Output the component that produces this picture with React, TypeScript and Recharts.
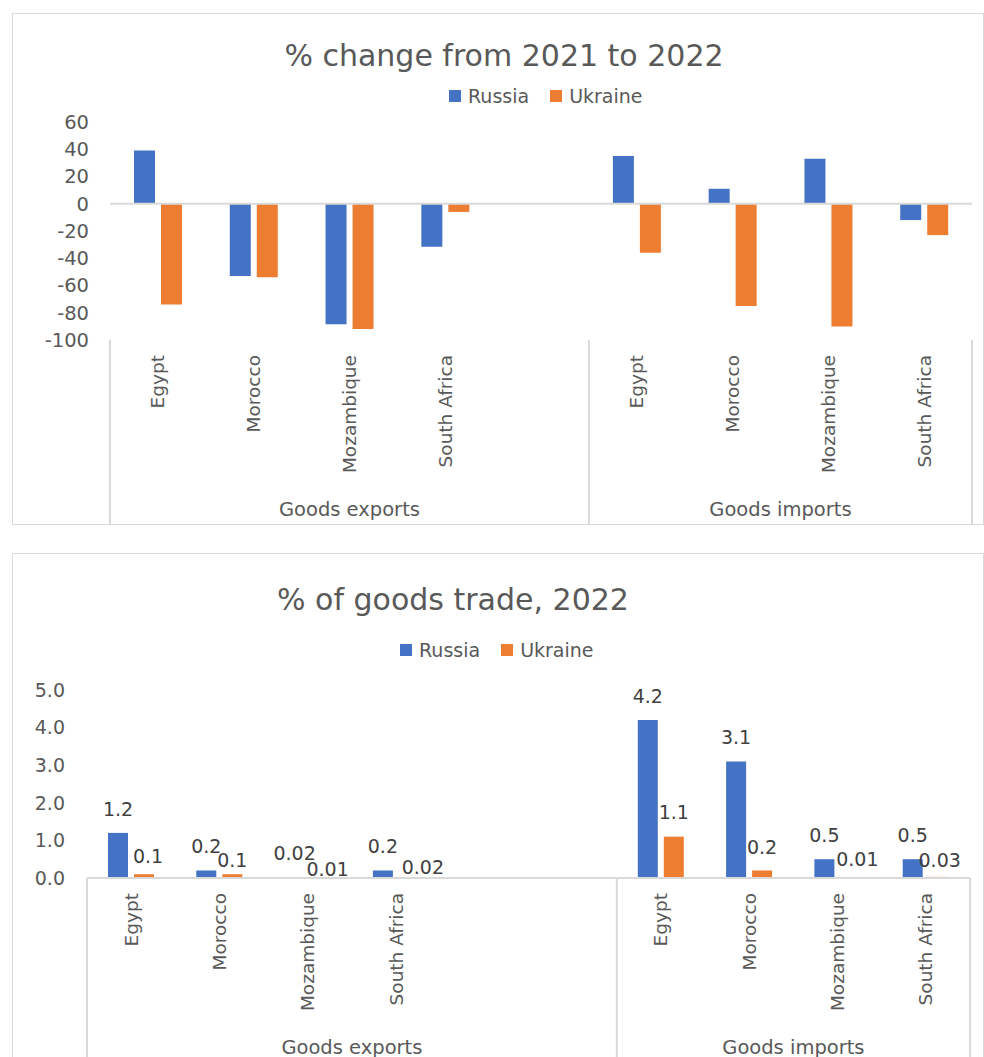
import React from 'react';
import { Bar, BarChart, LabelList, ReferenceLine, XAxis, YAxis } from 'recharts';

const FONT = '"DejaVu Sans", sans-serif';
const TEXT = '#595959';
const LABEL = '#404040';
const LINE = '#d9d9d9';

const seriesNames = ['Russia', 'Ukraine'];
const seriesColors = ['#4472C4', '#ED7D31'];

// chart 1: % change from 2021 to 2022
const changeCategories = ['Egypt', 'Morocco', 'Mozambique', 'South Africa', '', 'Egypt', 'Morocco', 'Mozambique', 'South Africa'];
const changeGroups = ['Goods exports', 'Goods exports', 'Goods exports', 'Goods exports', 'Goods exports', 'Goods imports', 'Goods imports', 'Goods imports', 'Goods imports'];
const changeRussia = [39, -53, -88.5, -31.5, null, 35, 11, 33, -12];
const changeUkraine = [-74, -54, -92, -6, null, -36, -75, -90, -23];
const changeTicks = [-100, -80, -60, -40, -20, 0, 20, 40, 60];

// chart 2: % of goods trade, 2022
const shareCategories = ['Egypt', 'Morocco', 'Mozambique', 'South Africa', '', '', 'Egypt', 'Morocco', 'Mozambique', 'South Africa'];
const shareGroups = ['Goods exports', 'Goods exports', 'Goods exports', 'Goods exports', 'Goods exports', 'Goods exports', 'Goods imports', 'Goods imports', 'Goods imports', 'Goods imports'];
const shareRussia = [1.2, 0.2, 0.02, 0.2, null, null, 4.2, 3.1, 0.5, 0.5];
const shareUkraine = [0.1, 0.1, 0.01, 0.02, null, null, 1.1, 0.2, 0.01, 0.03];
const shareTicks = [0, 1, 2, 3, 4, 5];

// Ukraine labels were dragged around in the original; [dx, dy from bar top], by category
const ukraineLabelNudge: ([number, number] | null)[] = [
  [4, -18], [0, -14], [7, -8], [14, -10], null, null, [0, -24], [0, -23], [7, -18], [1, -17],
];

function toRows(names: string[], groups: string[], russia: (number | null)[], ukraine: (number | null)[]) {
  return names.map((name, i) => ({
    key: `c${i}`,
    name,
    group: groups[i],
    Russia: russia[i],
    Ukraine: ukraine[i],
  }));
}

function makeCategoryTick(names: string[], groups: string[], band: number, sepLen: number) {
  return function CategoryTick(props: any) {
    const { x, y, payload } = props;
    const i: number = props.index ?? payload.index;
    const left = x - band / 2;
    const first = i === 0 || groups[i] !== groups[i - 1];
    const last = i === names.length - 1;
    let size = 0;
    if (first) {
      while (groups[i + size] === groups[i]) size++;
    }
    const ly = y + 15;
    return (
      <g>
        {names[i] ? (
          <text
            x={x}
            y={ly}
            dy="0.35em"
            transform={`rotate(-90, ${x}, ${ly})`}
            textAnchor="end"
            fill={TEXT}
            fontSize={18.5}
            fontFamily={FONT}
          >
            {names[i]}
          </text>
        ) : null}
        {first ? <line x1={left} x2={left} y1={y} y2={y + sepLen} stroke={LINE} strokeWidth={2} /> : null}
        {first ? (
          <text x={left + (size * band) / 2} y={y + 176} textAnchor="middle" fill={TEXT} fontSize={19.5} fontFamily={FONT}>
            {groups[i]}
          </text>
        ) : null}
        {last ? (
          <line x1={x + band / 2} x2={x + band / 2} y1={y} y2={y + sepLen} stroke={LINE} strokeWidth={2} />
        ) : null}
      </g>
    );
  };
}

// both label lists read the row key, so the category index survives skipped (null) bars
const russiaLabel = (props: any) => {
  const { x, y, width, value } = props;
  const i = Number(String(value).slice(1));
  const v = shareRussia[i];
  if (v == null) return null;
  return (
    <text x={x + width / 2} y={y - 24} dy="0.35em" textAnchor="middle" fill={LABEL} fontSize={19} fontFamily={FONT}>
      {v}
    </text>
  );
};

const ukraineLabel = (props: any) => {
  const { x, y, width, value } = props;
  const i = Number(String(value).slice(1));
  const v = shareUkraine[i];
  const nudge = ukraineLabelNudge[i];
  if (v == null || !nudge) return null;
  return (
    <text x={x + width / 2 + nudge[0]} y={y + nudge[1]} dy="0.35em" textAnchor="middle" fill={LABEL} fontSize={19} fontFamily={FONT}>
      {v}
    </text>
  );
};

function SeriesLegend({ left, top }: { left: number; top: number }) {
  return (
    <div
      style={{
        position: 'absolute',
        left,
        top,
        display: 'flex',
        alignItems: 'center',
        gap: 21,
        fontFamily: FONT,
        fontSize: 19,
        lineHeight: '22px',
        color: TEXT,
        whiteSpace: 'nowrap',
      }}
    >
      {seriesNames.map((name, i) => (
        <div key={name} style={{ display: 'flex', alignItems: 'center', gap: 7 }}>
          <span style={{ display: 'inline-block', width: 12, height: 12, background: seriesColors[i] }} />
          {name}
        </div>
      ))}
    </div>
  );
}

function Title({ text, center, top }: { text: string; center: number; top: number }) {
  return (
    <div
      style={{
        position: 'absolute',
        left: center - 300,
        top,
        width: 600,
        textAlign: 'center',
        fontFamily: FONT,
        fontSize: 30,
        lineHeight: '36px',
        color: TEXT,
        whiteSpace: 'nowrap',
      }}
    >
      {text}
    </div>
  );
}

export default function App() {
  const changeRows = toRows(changeCategories, changeGroups, changeRussia, changeUkraine);
  const shareRows = toRows(shareCategories, shareGroups, shareRussia, shareUkraine);

  const changeBand = (984 - 110 - 12) / changeCategories.length;
  const shareBand = (984 - 87 - 14) / shareCategories.length;

  return (
    <div style={{ position: 'absolute', left: 0, top: 0, width: 984, height: 1057, overflow: 'hidden', background: '#fff' }}>
      <div style={{ position: 'absolute', left: 12, top: 13, width: 972, height: 512, boxSizing: 'border-box', border: `1px solid ${LINE}` }} />
      <div style={{ position: 'absolute', left: 12, top: 553, width: 972, height: 600, boxSizing: 'border-box', border: `1px solid ${LINE}` }} />

      <Title text="% change from 2021 to 2022" center={504} top={38} />
      <SeriesLegend left={449} top={85} />
      <div style={{ position: 'absolute', left: 0, top: 0 }}>
        <BarChart width={984} height={530} data={changeRows} margin={{ top: 122, right: 12, bottom: 6, left: 0 }} barSize={21} barGap={6}>
          <XAxis
            dataKey="key"
            interval={0}
            tickLine={false}
            axisLine={false}
            tickSize={0}
            tickMargin={0}
            height={184}
            tick={makeCategoryTick(changeCategories, changeGroups, changeBand, 184)}
          />
          <YAxis
            type="number"
            domain={[-100, 60]}
            ticks={changeTicks}
            interval={0}
            tickLine={false}
            axisLine={false}
            tickSize={0}
            tickMargin={21}
            width={110}
            tick={{ fill: TEXT, fontSize: 19.5, fontFamily: FONT }}
          />
          <Bar dataKey="Russia" fill={seriesColors[0]} isAnimationActive={false} />
          <Bar dataKey="Ukraine" fill={seriesColors[1]} isAnimationActive={false} />
          <ReferenceLine y={0} stroke={LINE} strokeWidth={2} />
        </BarChart>
      </div>

      <Title text="% of goods trade, 2022" center={453} top={582} />
      <SeriesLegend left={400} top={639} />
      <div style={{ position: 'absolute', left: 0, top: 540 }}>
        <BarChart width={984} height={517} data={shareRows} margin={{ top: 150, right: 14, bottom: 0, left: 0 }} barSize={20} barGap={6}>
          <XAxis
            dataKey="key"
            interval={0}
            tickLine={false}
            axisLine={false}
            tickSize={0}
            tickMargin={0}
            height={179}
            tick={makeCategoryTick(shareCategories, shareGroups, shareBand, 179)}
          />
          <YAxis
            type="number"
            domain={[0, 5]}
            ticks={shareTicks}
            interval={0}
            tickLine={false}
            axisLine={false}
            tickSize={0}
            tickMargin={22}
            width={87}
            tickFormatter={(v: number) => v.toFixed(1)}
            tick={{ fill: TEXT, fontSize: 19, fontFamily: FONT }}
          />
          <ReferenceLine y={0} stroke={LINE} strokeWidth={2} />
          <Bar dataKey="Russia" fill={seriesColors[0]} isAnimationActive={false}>
            <LabelList dataKey="key" content={russiaLabel} />
          </Bar>
          <Bar dataKey="Ukraine" fill={seriesColors[1]} isAnimationActive={false}>
            <LabelList dataKey="key" content={ukraineLabel} />
          </Bar>
        </BarChart>
      </div>
    </div>
  );
}
